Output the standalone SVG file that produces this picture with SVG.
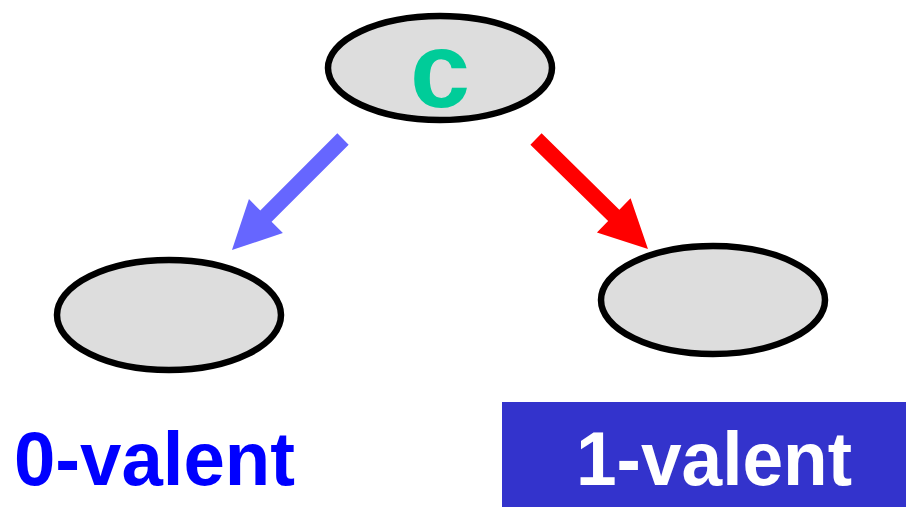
<svg xmlns="http://www.w3.org/2000/svg" xmlns:xlink="http://www.w3.org/1999/xlink" width="906" height="507" viewBox="0 0 906 507">
<style>
.node{fill:#DDDDDD;stroke:#000;stroke-width:6.5}
.lbl{font-family:"Liberation Sans",Arial,sans-serif;font-weight:bold}
</style>
<defs>
<path id="arr" d="M0,-8 L109,-8 L109,-24 L157,0 L109,24 L109,8 L0,8 Z"/>
</defs>
<rect width="906" height="507" fill="#fff"/>
<g id="connectors">
<use xlink:href="#arr" href="#arr" fill="#6666FF" transform="translate(343,139) rotate(135)"/>
<use xlink:href="#arr" href="#arr" fill="#FF0000" transform="translate(536,139) rotate(44.5)"/>
</g>
<g id="node-c">
<ellipse class="node" cx="440" cy="68" rx="112" ry="52"/>
<text class="lbl" x="440" y="107" font-size="108" fill="#00CC99" text-anchor="middle">c</text>
</g>
<g id="node-0">
<ellipse class="node" cx="169" cy="315" rx="112" ry="55"/>
</g>
<g id="node-1">
<ellipse class="node" cx="713" cy="300" rx="112" ry="54"/>
</g>
<g id="label-0">
<text class="lbl" x="14" y="485" font-size="76" fill="#0000FF" textLength="281" lengthAdjust="spacingAndGlyphs">0-valent</text>
</g>
<g id="label-1">
<rect x="502" y="402" width="404" height="105" fill="#3333CC"/>
<text class="lbl" x="576" y="485" font-size="76" fill="#FFFFFF" textLength="276" lengthAdjust="spacingAndGlyphs">1-valent</text>
</g>
</svg>
